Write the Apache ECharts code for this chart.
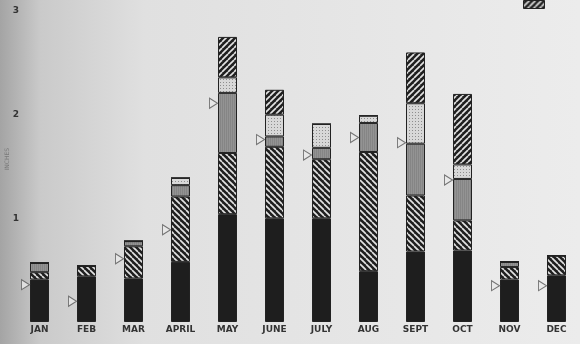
<!DOCTYPE html>
<html>
<head>
<meta charset="utf-8">
<script src="https://cdn.jsdelivr.net/npm/echarts@6/dist/echarts.min.js"></script>
<style>
  html, body { margin: 0; padding: 0; }
  #chart { width: 580px; height: 344px; }
</style>
</head>
<body>
<div id="chart"></div>
<script>
// months along the bottom
var months = ['JAN', 'FEB', 'MAR', 'APRIL', 'MAY', 'JUNE', 'JULY', 'AUG', 'SEPT', 'OCT', 'NOV', 'DEC'];
// stacked pieces, bottom to top (inches)
var solid     = [0.41, 0.44, 0.42, 0.58, 1.04, 1.00, 1.00, 0.49, 0.68, 0.69, 0.41, 0.45];
var hatchLow  = [0.07, 0.10, 0.31, 0.63, 0.59, 0.69, 0.57, 1.15, 0.54, 0.29, 0.12, 0.19];
var grey      = [0.09, 0,    0.05, 0.11, 0.58, 0.10, 0.11, 0.28, 0.50, 0.40, 0.05, 0];
var dotted    = [0,    0,    0,    0.07, 0.15, 0.21, 0.23, 0.07, 0.39, 0.14, 0,    0];
var hatchHigh = [0,    0,    0,    0,    0.39, 0.24, 0,    0,    0.49, 0.68, 0,    0];
// triangle markers
var marks     = [0.36, 0.20, 0.61, 0.89, 2.11, 1.76, 1.61, 1.78, 1.73, 1.37, 0.35, 0.35];
var yTicks = [0, 1, 2, 3];

// little canvas tiles used as fill patterns
function hatch(dir) {
  var s = 6;
  var c = document.createElement('canvas');
  c.width = s; c.height = s;
  var g = c.getContext('2d');
  g.fillStyle = '#1f1f1f';
  g.fillRect(0, 0, s, s);
  g.strokeStyle = '#e2e2e2';
  g.lineWidth = 1.7;
  for (var k = -1; k <= 1; k++) {
    g.beginPath();
    if (dir > 0) {
      g.moveTo(k * s, s); g.lineTo(k * s + s, 0);
    } else {
      g.moveTo(k * s, 0); g.lineTo(k * s + s, s);
    }
    g.stroke();
  }
  return c;
}
function dots() {
  var c = document.createElement('canvas');
  c.width = 3; c.height = 3;
  var g = c.getContext('2d');
  g.fillStyle = '#d8d8d8';
  g.fillRect(0, 0, 3, 3);
  g.fillStyle = '#8e8e8e';
  g.fillRect(1, 1, 1, 1);
  return c;
}
function greyTile() {
  var c = document.createElement('canvas');
  c.width = 2; c.height = 2;
  var g = c.getContext('2d');
  g.fillStyle = '#939393';
  g.fillRect(0, 0, 2, 2);
  g.fillStyle = '#858585';
  g.fillRect(0, 0, 1, 2);
  return c;
}

var chart = echarts.init(document.getElementById('chart'));

function barSeries(name, data, color) {
  return {
    name: name,
    type: 'bar',
    stack: 'rain',
    barWidth: 19,
    data: data,
    itemStyle: { color: color, borderColor: '#222', borderWidth: 1 },
    emphasis: { disabled: true }
  };
}

var option = {
  animation: false,
  backgroundColor: {
    type: 'linear', x: 0, y: 0, x2: 1, y2: 0,
    colorStops: [
      { offset: 0, color: '#a4a4a4' },
      { offset: 0.07, color: '#cacaca' },
      { offset: 0.25, color: '#e0e0e0' },
      { offset: 1, color: '#ececec' }
    ]
  },
  grid: { left: 16, right: 0, top: 11, bottom: 22, outerBoundsMode: 'none', containLabel: false },
  xAxis: {
    type: 'category',
    data: months,
    axisLine: { show: false },
    axisTick: { show: false },
    axisLabel: { margin: 3, fontSize: 9, fontWeight: 'bold', color: '#333', fontFamily: 'DejaVu Sans' }
  },
  yAxis: {
    type: 'value',
    min: yTicks[0],
    max: yTicks[yTicks.length - 1],
    interval: 1,
    splitLine: { show: false },
    axisLine: { show: false },
    axisTick: { show: false },
    axisLabel: {
      margin: 0,
      align: 'center',
      fontSize: 9,
      fontWeight: 'bold',
      color: '#333',
      fontFamily: 'DejaVu Sans',
      formatter: function (v) { return v === 0 ? '' : v; }
    }
  },
  series: [
    barSeries('solid', solid, '#1e1e1e'),
    barSeries('hatchLow', hatchLow, { image: hatch(-1), repeat: 'repeat' }),
    barSeries('grey', grey, { image: greyTile(), repeat: 'repeat' }),
    barSeries('dotted', dotted, { image: dots(), repeat: 'repeat' }),
    barSeries('hatchHigh', hatchHigh, { image: hatch(1), repeat: 'repeat' }),
    {
      name: 'marks',
      type: 'scatter',
      data: marks,
      symbol: 'triangle',
      symbolSize: [10, 8],
      symbolRotate: -90,
      symbolOffset: [-14, 0],
      itemStyle: { color: '#e8e8e8', borderColor: '#555', borderWidth: 1 },
      z: 5
    }
  ],
  graphic: [
    {
      type: 'rect',
      left: 523, top: 0,
      shape: { width: 21, height: 8 },
      style: { fill: { image: hatch(1), repeat: 'repeat' }, stroke: '#222', lineWidth: 1 }
    },
    {
      type: 'text',
      left: 4, top: 148,
      rotation: Math.PI / 2,
      style: { text: 'INCHES', fontSize: 6, fill: '#7a7a7a', fontFamily: 'DejaVu Sans' }
    }
  ]
};

chart.setOption(option);
</script>
</body>
</html>
